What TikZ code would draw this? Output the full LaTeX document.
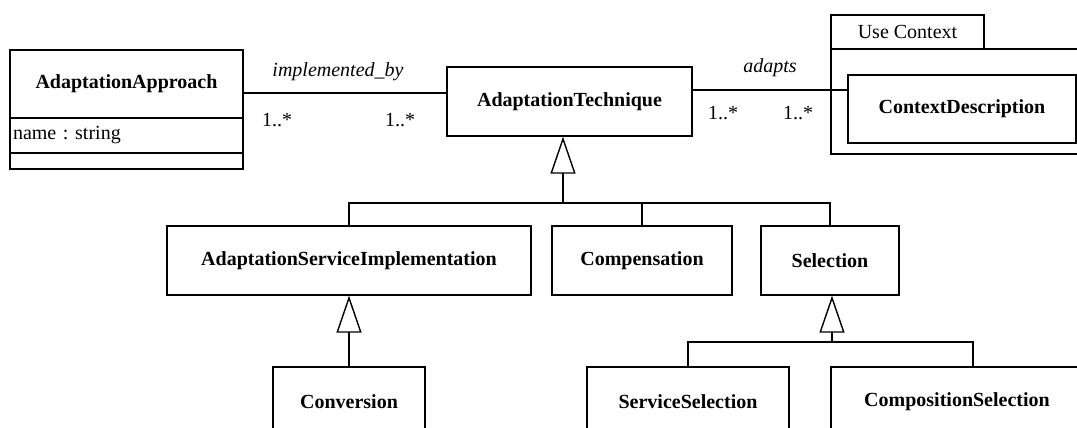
\documentclass[tikz,border=0pt]{standalone}
\usepackage{fontspec}
\setmainfont{Liberation Serif}
\usetikzlibrary{arrows.meta}
\frenchspacing
\begin{document}
\begin{tikzpicture}[x=1pt,y=-1pt,line width=1.4pt,
    font=\fontsize{20}{24}\selectfont,
    cls/.style={draw,inner sep=0pt,minimum height=69pt,font=\fontsize{20}{24}\selectfont\bfseries},
    lbl/.style={inner sep=0pt},
    inherit/.style={-{Triangle[open,length=37pt,width=25pt]}}]
    \useasboundingbox (0,0) rectangle (1077,428);
    \clip (0,0) rectangle (1077,428);
    % approach class with its compartments
    \node[cls,minimum width=233pt,minimum height=68pt] (aaName) at (126.5,84) {AdaptationApproach};
    \node[draw,inner ysep=0pt,inner xsep=3pt,text width=227pt,minimum height=35pt] (aaAttr) at (126.5,135.5) {name : string};
    \node[draw,inner sep=0pt,minimum width=233pt,minimum height=16pt] (aaOps) at (126.5,161) {};
    \node[cls,minimum width=245pt] (at) at (569.5,101.5) {AdaptationTechnique};
    % package
    \node[draw,inner sep=0pt,minimum width=153pt,minimum height=34pt] (ucTab) at (907.5,32) {Use Context};
    \node[draw,inner sep=0pt,minimum width=259pt,minimum height=105pt] (ucBody) at (960.5,101.5) {};
    \node[cls,minimum width=228pt,minimum height=68pt] (cd) at (962,109) {ContextDescription};
    % subclasses
    \node[cls,minimum width=364pt] (asi) at (349,260.5) {AdaptationServiceImplementation};
    \node[cls,minimum width=180pt] (comp) at (642,260.5) {Compensation};
    \node[cls,minimum width=138pt] (sel) at (830,260.5) {Selection};
    \node[cls,minimum width=152pt] (conv) at (349,401.5) {Conversion};
    \node[cls,minimum width=202pt] (ss) at (688,401.5) {ServiceSelection};
    \node[cls,minimum width=252pt] (cs) at (957,401.5) {CompositionSelection};
    % associations
    \draw (aaName.east |- 0,93) -- (at.west |- 0,93);
    \draw (at.east |- 0,90) -- (cd.west |- 0,90);
    \node[lbl,font=\fontsize{20}{24}\selectfont\itshape] (lblImpl) at (338,72) {implemented\_by};
    \node[lbl] (mAa) at (277,120) {1..*};
    \node[lbl] (mAt) at (400,120) {1..*};
    \node[lbl,font=\fontsize{20}{24}\selectfont\itshape] (lblAdapts) at (770,68) {adapts};
    \node[lbl] (mAt2) at (723,113) {1..*};
    \node[lbl] (mCd) at (798,113) {1..*};
    % generalisations
    \coordinate (atBar) at (563,203);
    \draw[inherit] (atBar) -- (atBar |- at.south);
    \draw (asi.north) |- (atBar) -| (sel.north);
    \draw (comp.north) -- (comp.north |- atBar);
    \draw[inherit] (conv.north) -- (asi.south);
    \coordinate (selBar) at (832,342);
    \draw[inherit] (selBar) -- (selBar |- sel.south);
    \draw (ss.north) |- (selBar) -- (selBar -| 973,0) -- (cs.north -| 973,0);
\end{tikzpicture}
\end{document}
